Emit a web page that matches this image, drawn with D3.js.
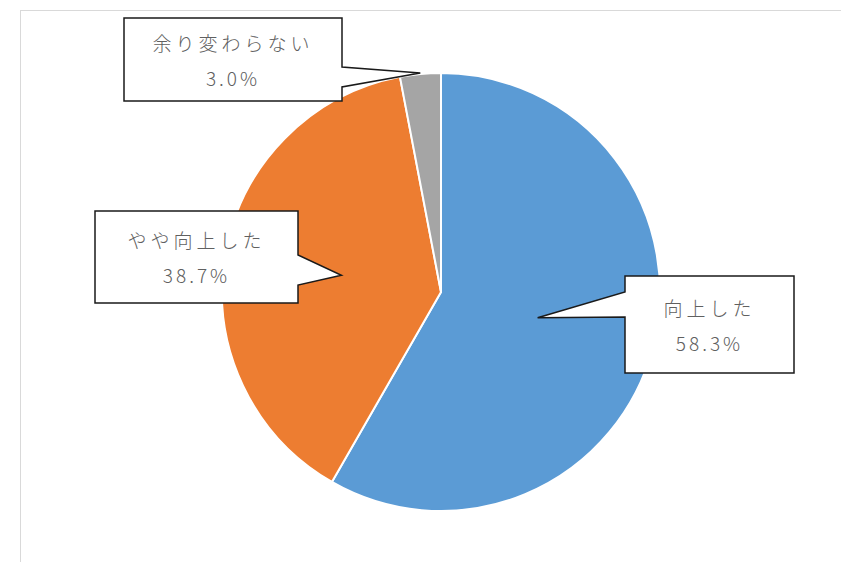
<!DOCTYPE html>
<html>
<head>
<meta charset="utf-8">
<script src="https://d3js.org/d3.v7.min.js"></script>
<style>
  html, body { margin:0; padding:0; background:#fff; }
  text { font-family:"Noto Sans CJK JP", "Noto Sans", sans-serif; }
</style>
</head>
<body>
<div id="box-pie"></div>
<script>
// data
var categories = ["向上した", "やや向上した", "余り変わらない"];
var shares = [58.3, 38.7, 3.0];
var colors = ["#5b9bd5", "#ed7d31", "#a5a5a5"];

var width = 841, height = 562;
var cx = 441, cy = 292, radius = 219;

// callout boxes (box rect, pointer attach side / y offsets, tip radius)
var callouts = [
  {x:625, y:276, w:169, h:97, side:"left",  a1:16, a2:41, tipR:100},
  {x:95,  y:211, w:203, h:92, side:"right", a1:44, a2:74, tipR:101},
  {x:124, y:18,  w:218, h:83, side:"right", a1:49, a2:69, tipR:220}
];

var svg = d3.select("#box-pie").append("svg")
  .attr("width", width).attr("height", height);

// chart frame
svg.append("rect")
  .attr("x", 20.5).attr("y", 10.5)
  .attr("width", 900).attr("height", 700)
  .attr("fill", "none").attr("stroke", "#d9d9d9");

var g = svg.append("g").attr("transform", "translate(" + cx + "," + cy + ")");

var pie = d3.pie().sort(null).value(function(d){ return d; });
var arcs = pie(shares);

var path = d3.arc().outerRadius(radius).innerRadius(0);

g.selectAll(".slice")
  .data(arcs)
  .enter()
  .append("path")
  .attr("class", "slice")
  .attr("d", path)
  .attr("fill", function(d, i){ return colors[i]; })
  .attr("stroke", "#fff")
  .attr("stroke-width", 2)
  .attr("stroke-linejoin", "round");

// callouts
var labels = svg.selectAll(".callout")
  .data(arcs)
  .enter()
  .append("g")
  .attr("class", "callout");

labels.append("path")
  .attr("d", function(d, i){
    var c = callouts[i];
    var mid = (d.startAngle + d.endAngle) / 2;
    var tx = cx + c.tipR * Math.sin(mid),
        ty = cy - c.tipR * Math.cos(mid);
    var p = d3.path();
    var x0 = c.x, y0 = c.y, x1 = c.x + c.w, y1 = c.y + c.h;
    p.moveTo(x0, y0);
    p.lineTo(x1, y0);
    if (c.side === "right") {
      p.lineTo(x1, y0 + c.a1);
      p.lineTo(tx, ty);
      p.lineTo(x1, y0 + c.a2);
    }
    p.lineTo(x1, y1);
    p.lineTo(x0, y1);
    if (c.side === "left") {
      p.lineTo(x0, y0 + c.a2);
      p.lineTo(tx, ty);
      p.lineTo(x0, y0 + c.a1);
    }
    p.closePath();
    return p.toString();
  })
  .attr("fill", "#fff")
  .attr("stroke", "#1a1a1a")
  .attr("stroke-width", 1.5)
  .attr("stroke-linejoin", "miter");

labels.append("text")
  .attr("x", function(d, i){ return callouts[i].x + callouts[i].w / 2; })
  .attr("y", function(d, i){ return callouts[i].y + callouts[i].h / 2 - 17.5; })
  .attr("text-anchor", "middle")
  .attr("dominant-baseline", "central")
  .attr("font-size", 19)
  .attr("font-weight", 300)
  .attr("letter-spacing", 4)
  .attr("fill", "#606060")
  .text(function(d, i){ return categories[i]; });

labels.append("text")
  .attr("x", function(d, i){ return callouts[i].x + callouts[i].w / 2; })
  .attr("y", function(d, i){ return callouts[i].y + callouts[i].h / 2 + 17.5; })
  .attr("text-anchor", "middle")
  .attr("dominant-baseline", "central")
  .attr("font-size", 19)
  .attr("font-weight", 300)
  .attr("letter-spacing", 3)
  .attr("fill", "#606060")
  .text(function(d){ return d3.format(".1f")(d.data) + "%"; });
</script>
</body>
</html>
